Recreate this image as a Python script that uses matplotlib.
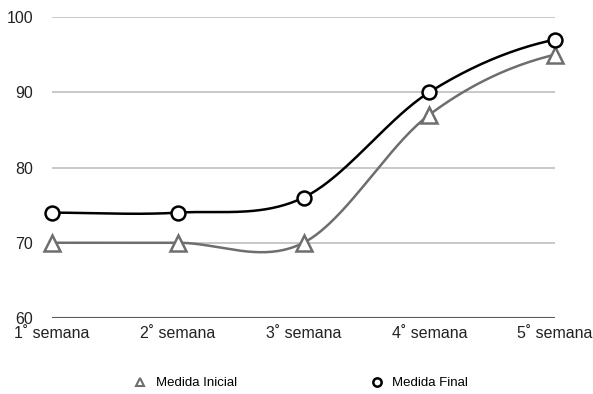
import numpy as np
import matplotlib
matplotlib.use("Agg")
import matplotlib.pyplot as plt
from matplotlib.lines import Line2D

plt.rcParams['font.family'] = ['Liberation Sans', 'DejaVu Sans']

semanas = ["1˚ semana", "2˚ semana", "3˚ semana", "4˚ semana", "5˚ semana"]
medida_inicial = [70, 70, 70, 87, 95]
medida_final = [74, 74, 76, 90, 97]
y_ticks = [60, 70, 80, 90, 100]


def catmull_rom(y, steps=40):
    """Smooth curve through the points using Catmull-Rom tangents."""
    y = np.asarray(y, dtype=float)
    n = len(y)
    m = np.zeros(n)
    m[1:-1] = (y[2:] - y[:-2]) / 2.0
    m[0] = 0.0
    m[-1] = (y[-1] - y[-2]) * 0.5
    xs, ys = [], []
    for i in range(n - 1):
        t = np.linspace(0, 1, steps, endpoint=(i == n - 2))
        h00 = 2 * t**3 - 3 * t**2 + 1
        h10 = t**3 - 2 * t**2 + t
        h01 = -2 * t**3 + 3 * t**2
        h11 = t**3 - t**2
        xs.append(i + t)
        ys.append(h00 * y[i] + h10 * m[i] + h01 * y[i + 1] + h11 * m[i + 1])
    return np.concatenate(xs), np.concatenate(ys)


fig = plt.figure(figsize=(5.93, 3.94), dpi=100)
ax = fig.add_axes([52 / 593, 1 - 318 / 394, (555 - 52) / 593, (318 - 17) / 394])

x = np.arange(len(semanas))
gray = "#6e6e6e"

for yv in y_ticks[1:]:
    ax.axhline(yv, color="#c4c4c4", lw=1.3, zorder=1)
ax.axhline(60, color="#5a5a5a", lw=1.5, zorder=1)

xi, yi = catmull_rom(medida_inicial)
ax.plot(xi, yi, color=gray, lw=1.8, zorder=2, clip_on=False)
ax.plot(x, medida_inicial, linestyle="none", marker="^", ms=11, mfc="white",
        mec=gray, mew=1.8, zorder=3, clip_on=False)

xf, yf = catmull_rom(medida_final)
ax.plot(xf, yf, color="black", lw=1.8, zorder=4, clip_on=False)
ax.plot(x, medida_final, linestyle="none", marker="o", ms=10, mfc="white",
        mec="black", mew=1.8, zorder=5, clip_on=False)

ax.set_xlim(0, len(semanas) - 1)
ax.set_ylim(60, 100)
ax.set_xticks(x)
ax.set_xticklabels(semanas, fontsize=11.5, color="#222222")
ax.set_yticks(y_ticks)
ax.set_yticklabels([str(v) for v in y_ticks], fontsize=11.5, color="#222222")
ax.tick_params(axis="both", length=0)
ax.tick_params(axis="y", pad=13.5)
ax.tick_params(axis="x", pad=6)
for s in ax.spines.values():
    s.set_visible(False)

handles = [
    Line2D([], [], linestyle="none", marker="^", ms=6, mfc="white", mec=gray, mew=1.5),
    Line2D([], [], linestyle="none", marker="o", ms=6, mfc="white", mec="black", mew=1.8),
]
fig.legend(handles, ["Medida Inicial", "Medida Final"], loc="center",
           bbox_to_anchor=(300 / 593, 1 - 383 / 394), ncol=2, frameon=False,
           fontsize=9.5, columnspacing=10.0, handletextpad=0.6, handlelength=1.2)

fig.savefig("out.png", dpi=100)
